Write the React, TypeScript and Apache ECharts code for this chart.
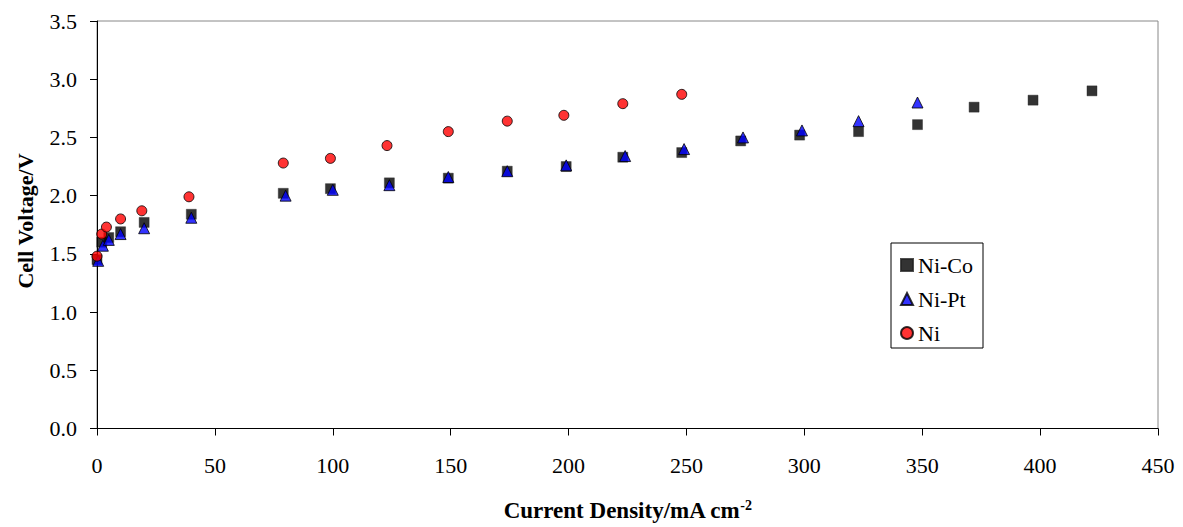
import React, { useEffect, useRef } from "react";
import * as echarts from "echarts";

const niCoX = [0, 2, 5, 10, 20, 40, 79, 99, 124, 149, 174, 199, 223, 248, 273, 298, 323, 348, 372, 397, 422];
const niCoY = [1.45, 1.6, 1.64, 1.69, 1.77, 1.84, 2.02, 2.06, 2.11, 2.15, 2.21, 2.25, 2.33, 2.37, 2.47, 2.52, 2.55, 2.61, 2.76, 2.82, 2.9];
const niPtX = [0.5, 2.5, 5, 10, 20, 40, 80, 100, 124, 149, 174, 199, 224, 249, 274, 299, 323, 348];
const niPtY = [1.44, 1.57, 1.62, 1.67, 1.72, 1.81, 2.0, 2.05, 2.09, 2.16, 2.21, 2.26, 2.34, 2.4, 2.5, 2.56, 2.64, 2.8];
const niX = [0, 2, 4, 10, 19, 39, 79, 99, 123, 149, 174, 198, 223, 248];
const niY = [1.48, 1.67, 1.73, 1.8, 1.87, 1.99, 2.28, 2.32, 2.43, 2.55, 2.64, 2.69, 2.79, 2.87];

const seriesNames = ["Ni-Co", "Ni-Pt", "Ni"];
const xTitle = "Current Density/mA cm";
const xTitleSup = "-2";
const yTitle = "Cell Voltage/V";

const FONT = "Liberation Serif, Times New Roman, serif";

const zip = (xs: number[], ys: number[]) => xs.map((x, i) => [x, ys[i]]);

export default function App() {
  const ref = useRef<HTMLDivElement>(null);
  useEffect(() => {
    if (!ref.current) return;
    const chart = echarts.init(ref.current, undefined, { renderer: "svg" });
    chart.setOption({
      animation: false,
      backgroundColor: "#ffffff",
      textStyle: { fontFamily: FONT },
      grid: {
        left: 97,
        right: 25,
        top: 21,
        bottom: 97,
        show: true,
        borderColor: "#888888",
        borderWidth: 1,
      },
      graphic: [
        {
          type: "text",
          x: 25,
          y: 221,
          rotation: Math.PI / 2,
          style: {
            text: yTitle,
            fontFamily: FONT,
            fontSize: 22,
            fontWeight: "bold",
            fill: "#000",
            align: "center",
            verticalAlign: "middle",
          },
        },
      ],
      xAxis: {
        type: "value",
        min: 0,
        max: 450,
        interval: 50,
        name: `{a|${xTitle}}{s|${xTitleSup}}`,
        nameLocation: "middle",
        nameGap: 70,
        nameTextStyle: {
          rich: {
            a: { fontFamily: FONT, fontSize: 23, fontWeight: "bold", color: "#000" },
            s: { fontFamily: FONT, fontSize: 14, fontWeight: "bold", color: "#000", verticalAlign: "top", padding: [0, 0, 10, 0] },
          },
        },
        axisLine: { show: true, lineStyle: { color: "#000", width: 1 } },
        axisTick: { show: true, inside: false, length: 7, lineStyle: { color: "#000" } },
        axisLabel: { fontFamily: FONT, fontSize: 22, color: "#000", margin: 26 },
        splitLine: { show: false },
      },
      yAxis: {
        type: "value",
        min: 0,
        max: 3.5,
        interval: 0.5,
        axisLine: { show: true, lineStyle: { color: "#000", width: 1 } },
        axisTick: { show: true, inside: false, length: 7, lineStyle: { color: "#000" } },
        axisLabel: {
          fontFamily: FONT,
          fontSize: 22,
          color: "#000",
          margin: 20,
          formatter: (v: number) => v.toFixed(1),
        },
        splitLine: { show: false },
      },
      legend: {
        orient: "vertical",
        left: 891,
        top: 243,
        padding: [11, 10, 4, 9],
        itemGap: 12,
        itemWidth: 12,
        itemHeight: 12,
        borderColor: "#000",
        borderWidth: 1,
        backgroundColor: "#fff",
        data: seriesNames,
        textStyle: { fontFamily: FONT, fontSize: 22, color: "#000" },
      },
      series: [
        {
          name: seriesNames[0],
          type: "scatter",
          data: zip(niCoX, niCoY),
          symbol: "rect",
          symbolSize: 10,
          itemStyle: { color: "#000000", borderColor: "#222", borderWidth: 0.5 },
          z: 2,
        },
        {
          name: seriesNames[1],
          type: "scatter",
          data: zip(niPtX, niPtY),
          symbol: "triangle",
          symbolSize: 11,
          itemStyle: { color: "#0000ff", borderColor: "#000", borderWidth: 1 },
          z: 3,
        },
        {
          name: seriesNames[2],
          type: "scatter",
          data: zip(niX, niY),
          symbol: "circle",
          symbolSize: 10,
          itemStyle: { color: "#ff0000", borderColor: "#000", borderWidth: 1 },
          z: 4,
        },
      ],
    });
    return () => chart.dispose();
  }, []);
  return <div ref={ref} style={{ width: 1183, height: 527, position: "absolute", left: 0, top: 0 }} />;
}
